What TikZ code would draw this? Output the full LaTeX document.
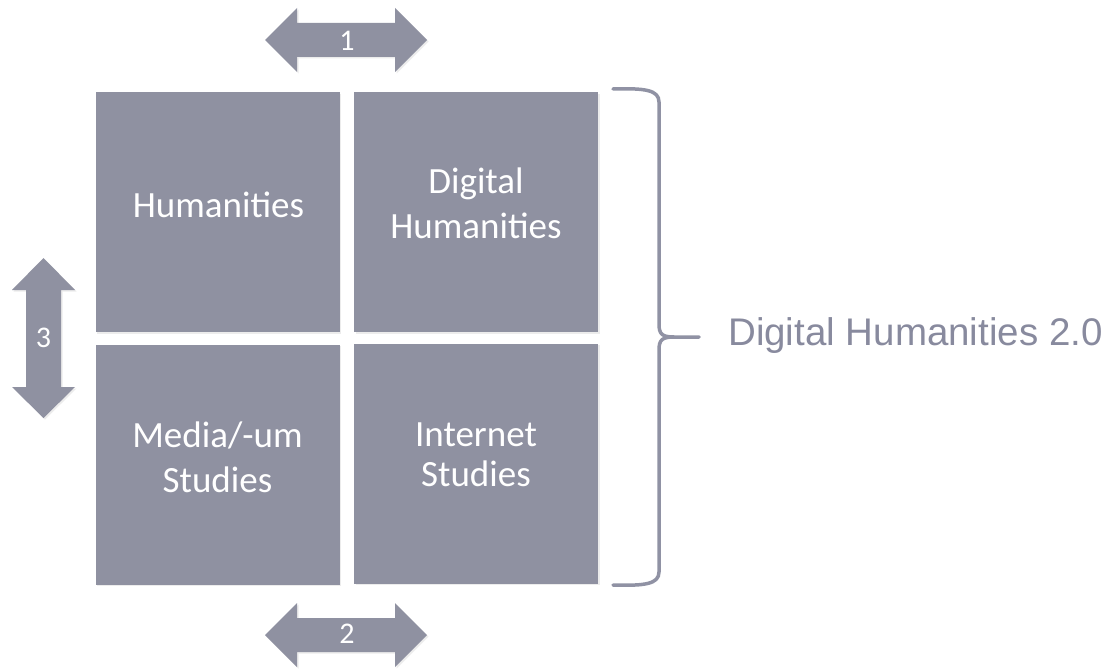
\documentclass[tikz,border=0pt]{standalone}
\usepackage{fontspec}
\setmainfont{Carlito}
\newfontfamily\arialfont{Liberation Sans}
\usetikzlibrary{shadows}
\definecolor{tile}{RGB}{143,145,161}
\definecolor{bracecol}{RGB}{144,146,164}
\definecolor{captioncol}{RGB}{136,138,158}
\tikzset{
  tile/.style={rectangle, fill=tile, draw=none, minimum width=244pt, minimum height=240pt,
    inner sep=0pt, drop shadow={shadow xshift=1.5pt, shadow yshift=-1.5pt, opacity=0.15}},
  tiletext/.style={text=white, font=\fontsize{37}{45}\selectfont, inner sep=0pt, anchor=base},
  arrowshape/.style={fill=tile, draw=none,
    drop shadow={shadow xshift=1.5pt, shadow yshift=-1.5pt, opacity=0.15}},
  numtext/.style={text=white, font=\fontsize{30}{36}\selectfont, inner sep=0pt},
  bracket/.style={draw=bracecol, line width=3.5pt, line cap=round, line join=round},
  caption/.style={text=captioncol, font=\arialfont\fontsize{38.5}{46}\selectfont, inner sep=0pt, anchor=base west}
}
\begin{document}
\begin{tikzpicture}[x=1pt, y=-1pt]
  \useasboundingbox (0,0) rectangle (1111,669);
  \fill[white] (0,0) rectangle (1111,669);

  % the four tiles
  \node[tile] (hum)   at (217.5,212)   {};
  \node[tile] (dh)    at (476,212)     {};
  \node[tile] (media) at (217.5,464.5) {};
  \node[tile] (inet)  at (476,463.5)   {};

  \node[tiletext] (humA)   at (218.5,217) {Humanities};
  \node[tiletext] (dhA)    at (476,193)   {Digital};
  \node[tiletext] (dhB)    at (476,238)   {Humanities};
  \node[tiletext] (mediaA) at (217.5,447) {Media/-um};
  \node[tiletext] (mediaB) at (217.5,492) {Studies};
  \node[tiletext] (inetA)  at (476,446)   {Internet};
  \node[tiletext] (inetB)  at (476,486)   {Studies};

  % double arrows between the tiles
  \fill[arrowshape] (265,40) -- (297,8) -- (297,23) -- (395,23) -- (395,8) -- (427,40)
    -- (395,72) -- (395,57) -- (297,57) -- (297,72) -- cycle;
  \node[numtext] (one) at (347,41) {1};

  \fill[arrowshape] (265,635) -- (297,603) -- (297,618) -- (395,618) -- (395,603) -- (427,635)
    -- (395,667) -- (395,652) -- (297,652) -- (297,667) -- cycle;
  \node[numtext] (two) at (347,634) {2};

  \fill[arrowshape] (43.5,258) -- (75,290) -- (61,290) -- (61,387) -- (75,387) -- (43.5,418)
    -- (12,387) -- (26,387) -- (26,290) -- (12,290) -- cycle;
  \node[numtext] (three) at (43.5,338) {3};

  % curly bracket grouping the tiles
  \draw[bracket] (613,89) .. controls (645,88) and (659,90) .. (659,102) -- (659,324)
    .. controls (659,334) and (662,337) .. (674,337) -- (699,337);
  \draw[bracket] (674,337) .. controls (662,337) and (659,340) .. (659,350) -- (659,572)
    .. controls (659,584) and (645,586) .. (613,585);
  \coordinate (tip) at (699,337);

  \node[caption] (dh2) at (728,345) {Digital Humanities 2.0};
\end{tikzpicture}
\end{document}
